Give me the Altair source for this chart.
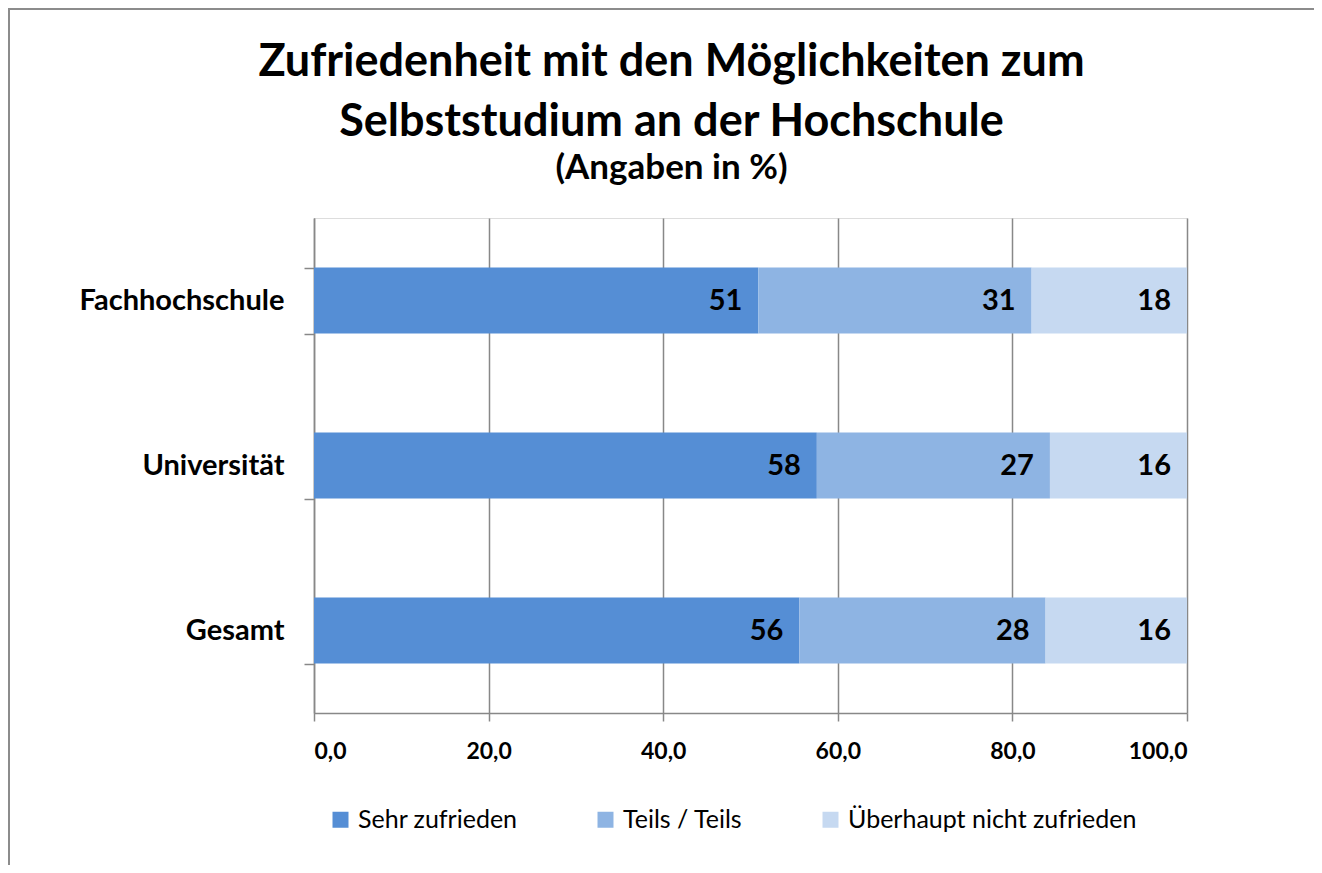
import altair as alt
import pandas as pd

categories = ["Fachhochschule", "Universität", "Gesamt"]
series = ["Sehr zufrieden", "Teils / Teils", "Überhaupt nicht zufrieden"]
colors = ["#558ED5", "#8EB4E3", "#C6D9F1"]
sehr_zufrieden = [50.9, 57.6, 55.6]
teils_teils = [31.3, 26.7, 28.2]
ueberhaupt_nicht = [17.8, 15.7, 16.2]
x_ticks = [0, 20, 40, 60, 80, 100]

rows = []
for i, cat in enumerate(categories):
    for j, (s, vals) in enumerate(zip(series, [sehr_zufrieden, teils_teils, ueberhaupt_nicht])):
        rows.append({"cat": cat, "series": s, "value": vals[i], "order": j})
df = pd.DataFrame(rows)

FONT = "Lato"

base = alt.Chart(df).transform_stack(
    stack="value", groupby=["cat"], as_=["x0", "x1"], sort=[alt.SortField("order")]
)

y_enc = alt.Y(
    "cat:N",
    sort=categories,
    title=None,
    scale=alt.Scale(paddingInner=0.6, paddingOuter=0.3),
    axis=alt.Axis(
        tickBand="extent",
        tickSize=10,
        tickColor="#888888",
        tickWidth=1.5,
        domainColor="#888888",
        domainWidth=1.5,
        labelFont=FONT,
        labelFontSize=29,
        labelFontWeight="bold",
        labelColor="#000000",
        labelPadding=20,
        labelLimit=400,
        grid=False,
    ),
)

x_scale = alt.Scale(domain=[0, 100], nice=False, zero=True)
x_axis = alt.Axis(
    values=x_ticks,
    labelExpr="replace(format(datum.value, '.1f'), '.', ',')",
    tickSize=8,
    tickColor="#888888",
    tickWidth=1.5,
    domainColor="#888888",
    domainWidth=1.5,
    gridColor="#888888",
    gridWidth=1.5,
    grid=True,
    labelFont=FONT,
    labelFontSize=23,
    labelFontWeight="bold",
    labelColor="#000000",
    labelPadding=19,
    title=None,
)

bars = base.mark_bar().encode(
    y=y_enc,
    x=alt.X("x0:Q", scale=x_scale, axis=x_axis),
    x2="x1:Q",
    color=alt.Color(
        "series:N",
        scale=alt.Scale(domain=series, range=colors),
        legend=alt.Legend(
            title=None,
            orient="none",
            legendX=14,
            legendY=589,
            direction="horizontal",
            symbolType="square",
            symbolSize=256,
            symbolStrokeWidth=0,
            labelFont=FONT,
            labelFontSize=25,
            labelColor="#000000",
            labelOffset=5,
            labelLimit=500,
            columnPadding=75,
        ),
    ),
)

texts = base.mark_text(
    align="right", baseline="middle", dx=-16, font=FONT, fontSize=29,
    fontWeight="bold", color="#000000"
).encode(
    y=alt.Y("cat:N", sort=categories),
    x=alt.X("x1:Q", scale=x_scale),
    text=alt.Text("value:Q", format=".0f"),
)

frame_df = pd.DataFrame({"a": [0]})
frame_left = alt.Chart(frame_df).mark_rule(color="#8c8c8c", strokeWidth=2).encode(
    x=alt.value(-305), y=alt.value(-210), y2=alt.value(647)
)
frame_top = alt.Chart(frame_df).mark_rule(color="#8c8c8c", strokeWidth=2).encode(
    x=alt.value(-306), x2=alt.value(1000), y=alt.value(-209)
)

chart = alt.layer(bars, texts, frame_left, frame_top).properties(
    width=873,
    height=495,
    autosize=alt.AutoSizeParams(type="none"),
    padding={"left": 306, "top": 210, "right": 127, "bottom": 152},
    title=alt.TitleParams(
        text=["Zufriedenheit mit den Möglichkeiten zum", "Selbststudium an der Hochschule"],
        subtitle="(Angaben in %)",
        font=FONT,
        fontSize=45,
        fontWeight="bold",
        color="#000000",
        lineHeight=60,
        subtitleFont=FONT,
        subtitleFontSize=35,
        subtitleFontWeight="bold",
        subtitleColor="#000000",
        subtitlePadding=6,
        anchor="middle",
        frame="group",
        dx=-79,
        offset=-179,
    ),
).configure_view(
    fill="#F2F2F2", stroke="#000000", strokeWidth=1.5
).configure(background="#FFFFFF")

chart.save("out.html", embed_options={"renderer": "svg", "actions": False})
